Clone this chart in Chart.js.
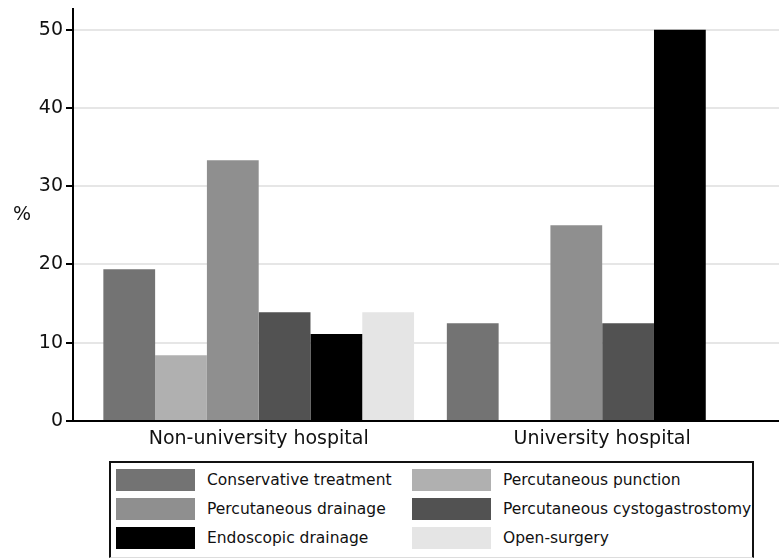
<!DOCTYPE html>
<html>
<head>
<meta charset="utf-8">
<script src="https://cdn.jsdelivr.net/npm/chart.js@4"></script>
<style>
  html, body { margin: 0; padding: 0; background: #fff; }
  #wrap { position: relative; width: 779px; height: 558px; overflow: hidden; }
  #wrap canvas { position: absolute; left: 0; top: 0; }
  #legend {
    position: absolute; left: 109px; top: 461px; width: 645px; height: 97px;
    box-sizing: border-box; border: 2px solid #111; border-bottom: 1px solid #ddd;
    background: #fff; font-family: "DejaVu Sans", sans-serif; font-size: 15.5px; color: #111;
    display: grid; grid-template-columns: 296px 296px; grid-auto-rows: 29px;
    padding: 6px 0 0 5px; margin: 0; list-style: none;
  }
  #legend li { display: flex; align-items: center; white-space: nowrap; height: 22px; }
  #legend .sw { width: 79px; height: 22px; margin-right: 12px; flex: none; }
</style>
</head>
<body>
<div id="wrap">
  <canvas id="c" width="779" height="558"></canvas>
  <ul id="legend"></ul>
</div>
<script>
const categories = ["Non-university hospital", "University hospital"];
const seriesNames = [
  "Conservative treatment",
  "Percutaneous punction",
  "Percutaneous drainage",
  "Percutaneous cystogastrostomy",
  "Endoscopic drainage",
  "Open-surgery"
];
const conservative = [19.4, 12.5];
const punction = [8.4, 0];
const drainage = [33.3, 25.0];
const cystogastrostomy = [13.9, 12.5];
const endoscopic = [11.1, 50.0];
const openSurgery = [13.9, 0];
const yTicks = [0, 10, 20, 30, 40, 50];
const colors = ["#737373", "#b0b0b0", "#8f8f8f", "#525252", "#000000", "#e5e5e5"];

const seriesValues = [conservative, punction, drainage, cystogastrostomy, endoscopic, openSurgery];

const datasets = seriesNames.map((name, i) => ({
  label: name,
  data: seriesValues[i].map((v, j) => ({ x: j, y: v })),
  backgroundColor: colors[i],
  borderWidth: 0,
  categoryPercentage: 0.9045,
  barPercentage: 1.0
}));

const htmlLegend = {
  id: 'htmlLegend',
  afterUpdate(chart) {
    const ul = document.getElementById('legend');
    ul.innerHTML = '';
    chart.data.datasets.forEach(ds => {
      const li = document.createElement('li');
      const sw = document.createElement('span');
      sw.className = 'sw';
      sw.style.background = ds.backgroundColor;
      const tx = document.createElement('span');
      tx.textContent = ds.label;
      li.appendChild(sw);
      li.appendChild(tx);
      ul.appendChild(li);
    });
  }
};

const yTitle = {
  id: 'yTitle',
  afterDraw(chart) {
    const ys = chart.scales.y;
    const ctx = chart.ctx;
    ctx.save();
    ctx.font = '19px "DejaVu Sans"';
    ctx.fillStyle = '#111';
    ctx.textAlign = 'center';
    ctx.textBaseline = 'middle';
    ctx.fillText('%', 22, (ys.top + ys.bottom) / 2);
    ctx.restore();
  }
};

new Chart(document.getElementById('c'), {
  type: 'bar',
  data: { datasets },
  options: {
    responsive: false,
    animation: false,
    devicePixelRatio: 1,
    layout: { padding: { top: 9.3, left: 0, right: 0, bottom: 0 } },
    plugins: { legend: { display: false }, tooltip: { enabled: false } },
    scales: {
      x: {
        type: 'linear',
        offset: false,
        min: -0.5406,
        max: 1.5147,
        afterBuildTicks(scale) { scale.ticks = categories.map((_, i) => ({ value: i })); },
        afterFit(scale) { scale.height = 137; },
        grid: { display: false, drawTicks: false, offset: false },
        border: { display: true, color: '#000', width: 2 },
        ticks: {
          autoSkip: false,
          maxRotation: 0,
          padding: 7,
          color: '#111',
          font: { family: '"DejaVu Sans"', size: 19 },
          callback: (v) => categories[v]
        }
      },
      y: {
        min: 0,
        max: 52.6,
        afterBuildTicks(scale) { scale.ticks = yTicks.map(v => ({ value: v })); },
        afterFit(scale) { scale.width = 73; scale.paddingTop = 0; },
        grid: {
          color: (c) => (c.tick && c.tick.value === 0) ? 'rgba(0,0,0,0)' : '#e6e6e6',
          lineWidth: 2,
          tickColor: '#000',
          tickLength: 7,
          tickWidth: 2
        },
        border: { display: true, color: '#000', width: 2 },
        ticks: {
          padding: 3,
          color: '#111',
          font: { family: '"DejaVu Sans"', size: 19, lineHeight: 0.5 }
        }
      }
    }
  },
  plugins: [htmlLegend, yTitle]
});
</script>
</body>
</html>
